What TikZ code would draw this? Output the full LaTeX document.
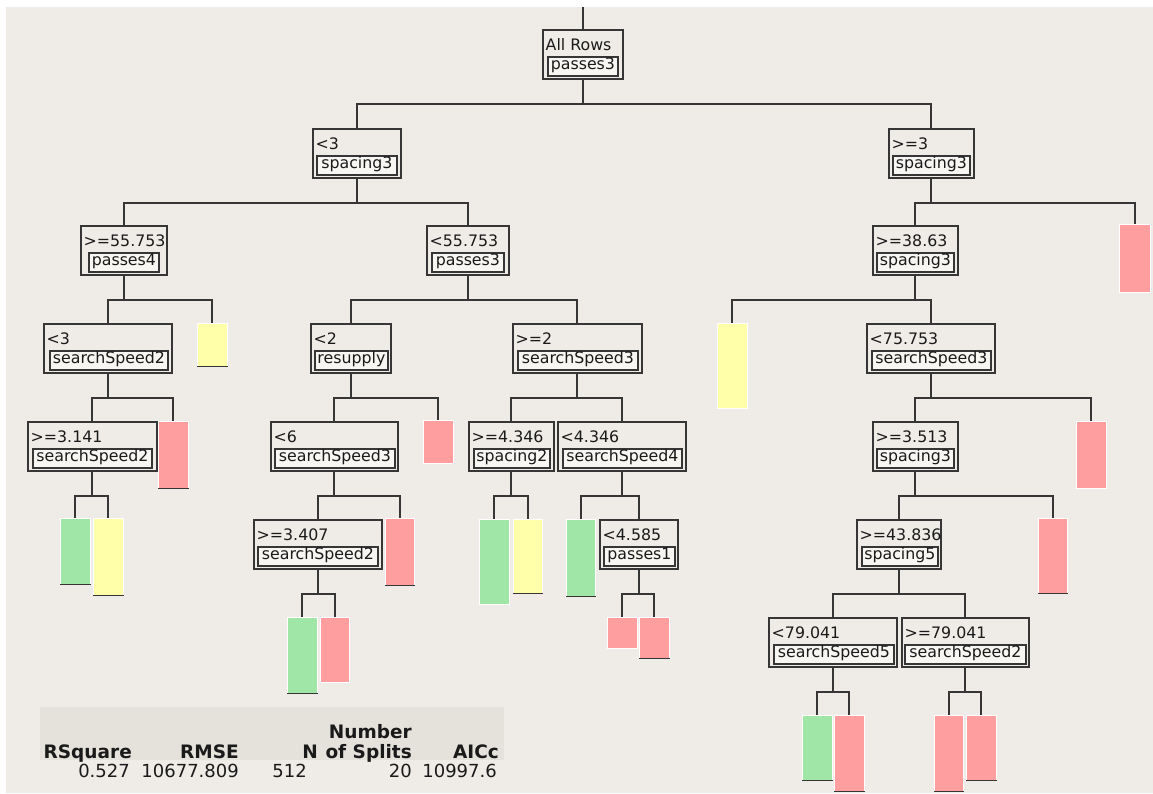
\documentclass[tikz,border=0pt]{standalone}
\usepackage{fontspec}
\setmainfont{DejaVu Sans}
\begin{document}
\begin{tikzpicture}[x=1pt,y=-1pt,
  outerbox/.style={draw=ink, line width=1.6pt, fill=bg, inner sep=0pt, minimum height=49pt},
  varbox/.style={draw=ink, line width=1.8pt, fill=boxfill, inner sep=0pt, minimum height=19pt,
                 text height=10.5pt, text depth=3.5pt, text=txt, font=\fontsize{15.8}{18}\selectfont},
  thrtext/.style={inner sep=0pt, text=txt, font=\fontsize{15.8}{18}\selectfont},
  leafbox/.style={draw=white, line width=0.5pt, inner sep=0pt},
  leafbase/.style={draw=ink, line width=1.6pt},
  edge/.style={draw=ink, line width=1.9pt},
  hdr/.style={inner sep=0pt, anchor=base east, text=txt, font=\fontsize{18.5}{21}\bfseries\selectfont},
  val/.style={inner sep=0pt, anchor=base east, text=txt, font=\fontsize{18}{21}\selectfont}]

\definecolor{bg}{HTML}{EFECE8}
\definecolor{band}{HTML}{E4E2DA}
\definecolor{ink}{HTML}{363636}
\definecolor{txt}{HTML}{1A1A1A}
\definecolor{boxfill}{HTML}{F7F6F3}
\definecolor{leafgreen}{HTML}{A0E6A6}
\definecolor{leafpink}{HTML}{FF9E9E}
\definecolor{leafyellow}{HTML}{FFFFAA}

% split node: name, left, top, right, inner left, inner right, threshold, variable
\newcommand\splitnode[8]{%
  \node[outerbox, minimum width={(#4-#2)*1pt}, anchor=north west] (#1) at (#2,#3) {};
  \node[thrtext, anchor=base west] (#1-t) at (#2+3.5,#3+21) {#7};
  \node[varbox, minimum width={(#6-#5)*1pt}, anchor=north west] (#1-v) at (#5,#3+27) {#8};
}
% leaf bar: name, left, top, right, bottom, colour, dark base line (1/0)
\newcommand\treeleaf[7]{%
  \node[leafbox, fill=#6, minimum width={(#4-#2)*1pt}, minimum height={(#5-#3)*1pt},
        anchor=north west] (#1) at (#2,#3) {};
  \ifnum#7=1 \draw[leafbase] (#1.south west) -- (#1.south east);\fi
}
% elbow connector from a parent to a child
\newcommand\branch[2]{\draw[edge] (#1.south) -- ++(0,24) -| (#2.north);}

\useasboundingbox (0,0) rectangle (1153,793);
\fill[white] (0,0) rectangle (1153,793);
\fill[bg] (6,7) rectangle (1153,793);

% summary table
\fill[band] (40,707) rectangle (504,760);
\node[hdr] (hNum) at (412,738) {Number};
\node[hdr] (hRsq) at (132,758) {RSquare};
\node[hdr] (hRmse) at (239,758) {RMSE};
\node[hdr] (hN) at (318,758) {N};
\node[hdr] (hSpl) at (412,758) {of Splits};
\node[hdr] (hAic) at (499,758) {AICc};
\node[val] (vRsq) at (130,777) {0.527};
\node[val] (vRmse) at (239,777) {10677.809};
\node[val] (vN) at (307,777) {512};
\node[val] (vSpl) at (412,777) {20};
\node[val] (vAic) at (497,777) {10997.6};

% split nodes
\splitnode{root}{542}{29}{622}{547}{617}{All Rows}{passes3}
\splitnode{a}{312}{128}{400}{316}{396}{<3}{spacing3}
\splitnode{b}{888}{128}{973}{892}{969}{>=3}{spacing3}
\splitnode{aa}{80}{225}{166}{88}{158}{>=55.753}{passes4}
\splitnode{ab}{426}{225}{508}{431}{503}{<55.753}{passes3}
\splitnode{aaa}{43}{323}{171}{49}{167}{<3}{searchSpeed2}
\splitnode{aba}{310}{323}{390}{314}{387}{<2}{resupply}
\splitnode{abb}{512}{323}{641}{517}{637}{>=2}{searchSpeed3}
\splitnode{aaaa}{27}{421}{156}{32}{151}{>=3.141}{searchSpeed2}
\splitnode{abaa}{270}{421}{397}{274}{394}{<6}{searchSpeed3}
\splitnode{abba}{468}{421}{553}{473}{549}{>=4.346}{spacing2}
\splitnode{abbb}{557}{421}{685}{562}{681}{<4.346}{searchSpeed4}
\splitnode{abaaa}{253}{519}{381}{257}{377}{>=3.407}{searchSpeed2}
\splitnode{abbbb}{599}{519}{677}{603}{674}{<4.585}{passes1}
\splitnode{ba}{872}{225}{957}{876}{953}{>=38.63}{spacing3}
\splitnode{bab}{866}{323}{994}{871}{990}{<75.753}{searchSpeed3}
\splitnode{baba}{872}{421}{957}{876}{953}{>=3.513}{spacing3}
\splitnode{babaa}{856}{519}{940}{861}{937}{>=43.836}{spacing5}
\splitnode{babaaa}{768}{617}{896}{773}{893}{<79.041}{searchSpeed5}
\splitnode{babaab}{901}{617}{1028}{904}{1025}{>=79.041}{searchSpeed2}

% leaves
\treeleaf{l1}{60}{518}{90}{584}{leafgreen}{1}
\treeleaf{l2}{93}{518}{123}{595}{leafyellow}{1}
\treeleaf{l3}{158}{421}{188}{488}{leafpink}{1}
\treeleaf{l4}{197}{323}{227}{366}{leafyellow}{1}
\treeleaf{l5}{423}{420}{453}{463}{leafpink}{0}
\treeleaf{l6}{385}{518}{414}{585}{leafpink}{1}
\treeleaf{l7}{287}{617}{317}{693}{leafgreen}{1}
\treeleaf{l8}{320}{617}{349}{682}{leafpink}{0}
\treeleaf{l9}{479}{519}{509}{604}{leafgreen}{0}
\treeleaf{l10}{513}{519}{542}{593}{leafyellow}{1}
\treeleaf{l11}{566}{519}{595}{596}{leafgreen}{1}
\treeleaf{l12}{607}{617}{637}{648}{leafpink}{0}
\treeleaf{l13}{639}{617}{669}{658}{leafpink}{1}
\treeleaf{l14}{1119}{224}{1150}{292}{leafpink}{0}
\treeleaf{l15}{717}{323}{747}{408}{leafyellow}{0}
\treeleaf{l16}{1076}{421}{1106}{488}{leafpink}{0}
\treeleaf{l17}{1038}{518}{1067}{593}{leafpink}{1}
\treeleaf{l18}{802}{715}{832}{780}{leafgreen}{1}
\treeleaf{l19}{834}{715}{864}{791}{leafpink}{1}
\treeleaf{l20}{934}{715}{963}{791}{leafpink}{1}
\treeleaf{l21}{966}{715}{996}{780}{leafpink}{1}

% connectors
\coordinate (top) at (root.north |- {(0,7)});
\draw[edge] (top) -- (root.north);
\branch{root}{a}   \branch{root}{b}
\branch{a}{aa}     \branch{a}{ab}
\branch{b}{ba}     \branch{b}{l14}
\branch{aa}{aaa}   \branch{aa}{l4}
\branch{ab}{aba}   \branch{ab}{abb}
\branch{aaa}{aaaa} \branch{aaa}{l3}
\branch{aaaa}{l1}  \branch{aaaa}{l2}
\branch{aba}{abaa} \branch{aba}{l5}
\branch{abaa}{abaaa} \branch{abaa}{l6}
\branch{abaaa}{l7} \branch{abaaa}{l8}
\branch{abb}{abba} \branch{abb}{abbb}
\branch{abba}{l9}  \branch{abba}{l10}
\branch{abbb}{l11} \branch{abbb}{abbbb}
\branch{abbbb}{l12} \branch{abbbb}{l13}
\branch{ba}{l15}   \branch{ba}{bab}
\branch{bab}{baba} \branch{bab}{l16}
\branch{baba}{babaa} \branch{baba}{l17}
\branch{babaa}{babaaa} \branch{babaa}{babaab}
\branch{babaaa}{l18} \branch{babaaa}{l19}
\branch{babaab}{l20} \branch{babaab}{l21}
\end{tikzpicture}
\end{document}
